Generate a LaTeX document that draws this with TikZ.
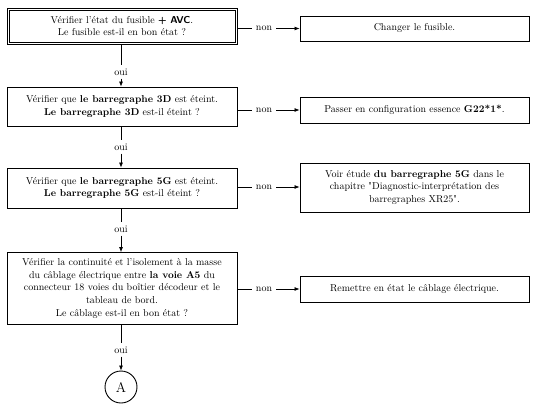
\documentclass[tikz,border=0pt]{standalone}
\usepackage{fontspec}
\newfontfamily\lmplain{Latin Modern Roman}
\newcommand{\sq}{{\lmplain\symbol{34}}}
\usetikzlibrary{arrows.meta}
\begin{document}
\begin{tikzpicture}[x=1pt,y=-1pt,
  every node/.style={font=\fontsize{10}{12.8}\selectfont},
  lbox/.style={draw,line width=0.8pt,minimum width=230pt,align=center,inner sep=2pt},
  rbox/.style={draw,line width=0.9pt,minimum width=229pt,align=center,inner sep=2pt},
  lab/.style={inner xsep=4pt,inner ysep=3pt},
  arr/.style={-{Latex[length=5pt,width=4pt]},line width=0.7pt},
  ln/.style={line width=0.7pt}]
\useasboundingbox (0,0) rectangle (538,420);
% left boxes
\node[lbox,line width=0.7pt,minimum height=36pt] (b1) at (122,26)
  {Vérifier l’état du fusible {\sffamily\bfseries + AVC}.\\Le fusible est-il en bon état ?};
\draw[line width=0.7pt] ([shift={(2.4,2.4)}]b1.north west) rectangle ([shift={(-2.4,-2.4)}]b1.south east);
\node[lbox,minimum height=39pt] (b2) at (122,106.5)
  {Vérifier que \textbf{le barregraphe 3D} est éteint.\\\textbf{Le barregraphe 3D} est-il éteint ?};
\node[lbox,minimum height=40pt] (b3) at (122,188)
  {Vérifier que \textbf{le barregraphe 5G} est éteint.\\\textbf{Le barregraphe 5G} est-il éteint ?};
\node[lbox,minimum height=72pt] (b4) at (122,288.5)
  {Vérifier la continuité et l’isolement à la masse\\du câblage électrique entre \textbf{la voie A5} du\\connecteur 18 voies du boîtier décodeur et le\\tableau de bord.\\Le câblage est-il en bon état ?};
\node[draw,circle,line width=0.9pt,minimum size=32pt,inner sep=0pt,font=\fontsize{14}{16}\selectfont] (A) at (121,387) {A};
% right boxes
\node[rbox,minimum height=25pt] (r1) at (414.5,28.5) {Changer le fusible.};
\node[rbox,minimum height=26pt] (r2) at (414.5,110) {Passer en configuration essence \textbf{G22*1*}.};
\node[rbox,minimum height=49pt] (r3) at (414.5,187.5)
  {Voir étude \textbf{du barregraphe 5G} dans le\\chapitre \sq Diagnostic-interprétation des\\barregraphes XR25\sq.};
\node[rbox,minimum height=26pt] (r4) at (414.5,289) {Remettre en état le câblage électrique.};
% non labels
\node[lab] (n1) at (264,28.5) {non};
\node[lab] (n2) at (264,110) {non};
\node[lab] (n3) at (264,187) {non};
\node[lab] (n4) at (264,289) {non};
\foreach \i in {1,2,3,4}{
  \draw[ln] (b\i.east |- n\i) -- (n\i.west);
  \draw[arr] (n\i.east) -- (r\i.west |- n\i);
}
% oui labels
\node[lab] (o1) at (121,72) {oui};
\node[lab] (o2) at (121,147) {oui};
\node[lab] (o3) at (121,229) {oui};
\node[lab] (o4) at (121,350) {oui};
\draw[ln] (b1.south -| o1) -- (o1.north);
\draw[arr] (o1.south) -- (b2.north -| o1);
\draw[ln] (b2.south -| o2) -- (o2.north);
\draw[arr] (o2.south) -- (b3.north -| o2);
\draw[ln] (b3.south -| o3) -- (o3.north);
\draw[arr] (o3.south) -- (b4.north -| o3);
\draw[ln] (b4.south -| o4) -- (o4.north);
\draw[arr] (o4.south) -- (A.north);
\end{tikzpicture}
\end{document}
